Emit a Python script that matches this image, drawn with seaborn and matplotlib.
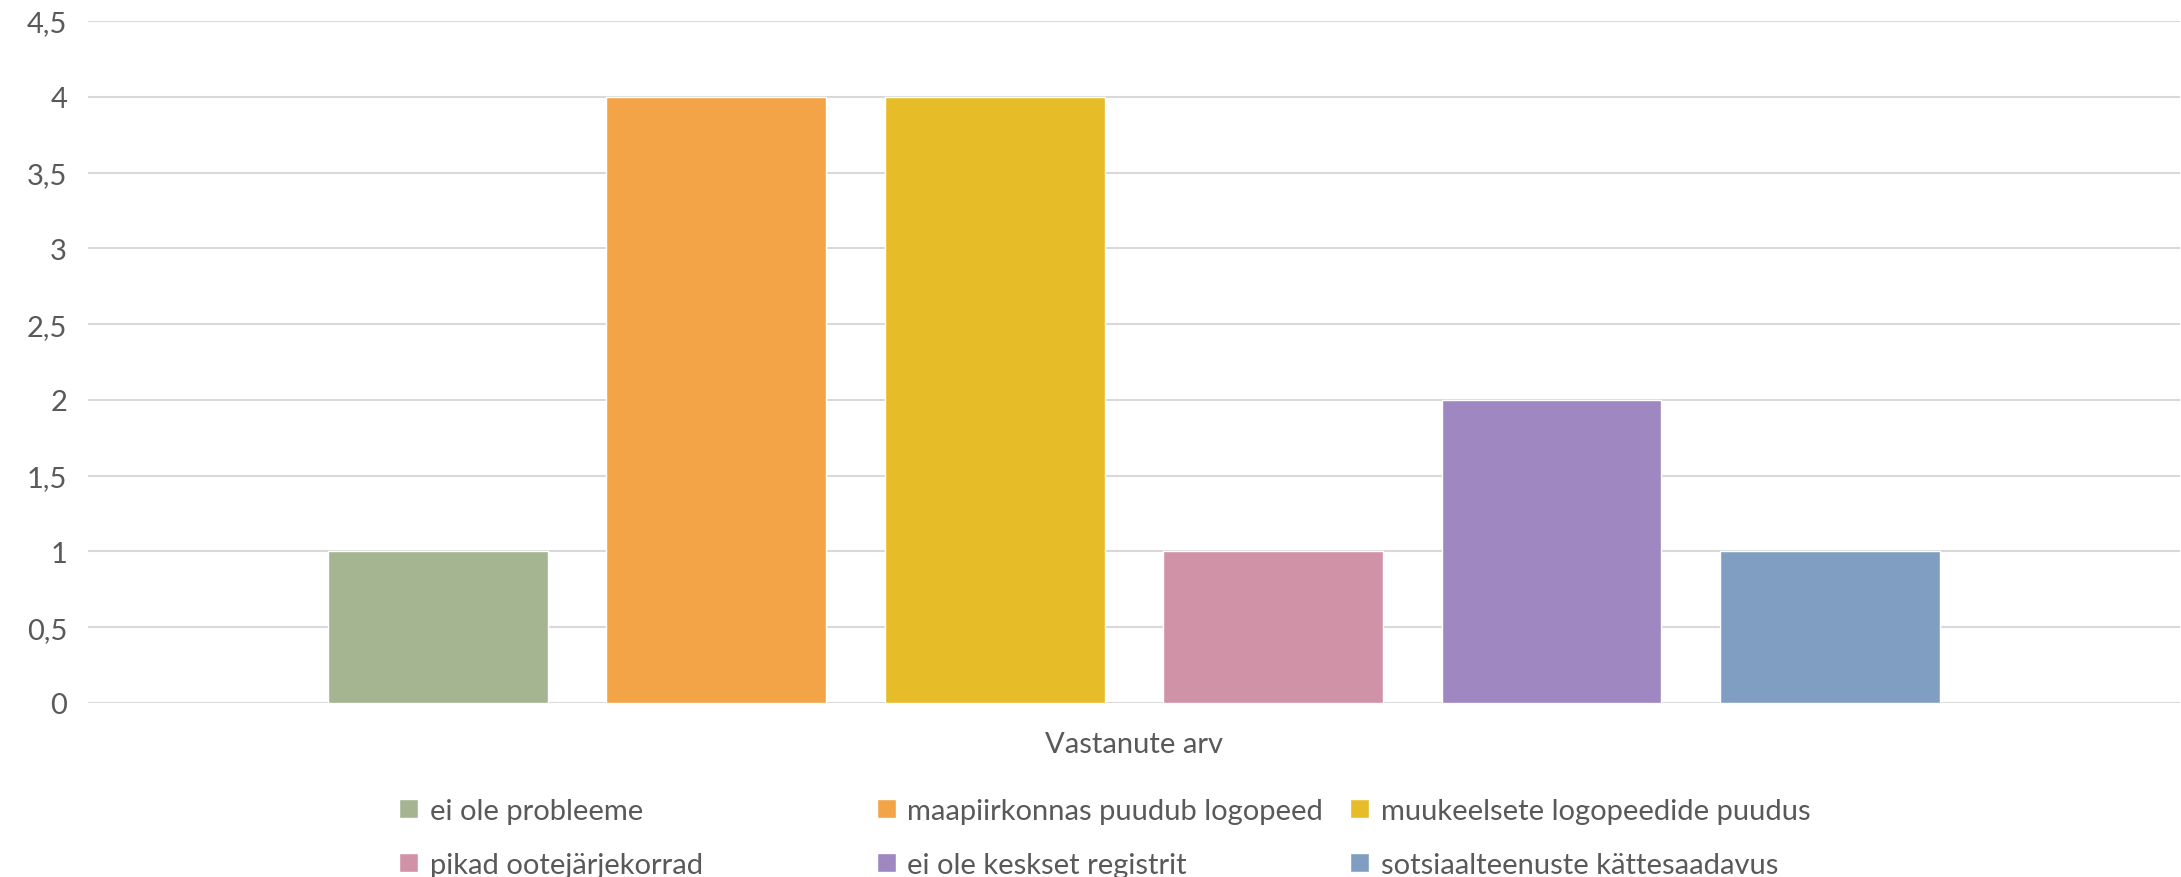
import matplotlib
matplotlib.use("Agg")
import matplotlib.pyplot as plt
import seaborn as sns
import pandas as pd

# Survey answers: number of respondents per problem
categories = [
    "ei ole probleeme",
    "maapiirkonnas puudub logopeed",
    "muukeelsete logopeedide puudus",
    "pikad ootejärjekorrad",
    "ei ole keskset registrit",
    "sotsiaalteenuste kättesaadavus",
]
values = [1, 4, 4, 1, 2, 1]
colors = ["#A5B592", "#F3A446", "#E7BC29", "#D092A7", "#9F87C2", "#809EC2"]
y_ticks = [0, 0.5, 1, 1.5, 2, 2.5, 3, 3.5, 4, 4.5]
x_title = "Vastanute arv"

sns.set_theme(style="white")
plt.rcParams["font.family"] = ["Lato", "DejaVu Sans"]
text_color = "#595959"
fs = 21

df = pd.DataFrame({"kategooria": categories, "vastanuid": values})

fig = plt.figure(figsize=(21.81, 8.78), dpi=100)
ax = fig.add_axes([0.0403, 0.1982, 0.9592, 0.7768])

sns.barplot(data=df, x="kategooria", y="vastanuid", hue="kategooria",
            palette=colors, order=categories, hue_order=categories,
            width=0.79, dodge=False, saturation=1, legend=True, ax=ax,
            zorder=3)

ax.set_ylim(0, 4.5)
ax.set_xlim(-1.257, 5 + 1.257)
ax.set_yticks(y_ticks)
ax.set_yticklabels([f"{t:g}".replace(".", ",") for t in y_ticks])
ax.yaxis.grid(True, color="#D9D9D9", linewidth=1.5, zorder=0)
ax.set_axisbelow(True)
for s in ax.spines.values():
    s.set_visible(False)
ax.tick_params(axis="y", length=0, pad=15, labelsize=fs, labelcolor=text_color)
ax.set_xticks([])
ax.set_ylabel("")
ax.set_xlabel(x_title, fontsize=fs, color=text_color, labelpad=20)

handles, labels = ax.get_legend_handles_labels()
ax.get_legend().remove()

# Legend laid out in three equal-width columns, two rows
col_x = [0.183, 0.402, 0.619]
for c in range(3):
    idx = [c, c + 3]
    fig.legend([handles[i] for i in idx], [labels[i] for i in idx],
               loc="upper left", bbox_to_anchor=(col_x[c], 0.090),
               ncols=1, frameon=False, fontsize=fs, labelcolor=text_color,
               handlelength=0.65, handleheight=0.65, handletextpad=0.4,
               labelspacing=0.95, borderaxespad=0, borderpad=0)

fig.savefig("out.png", dpi=100, facecolor="white")
